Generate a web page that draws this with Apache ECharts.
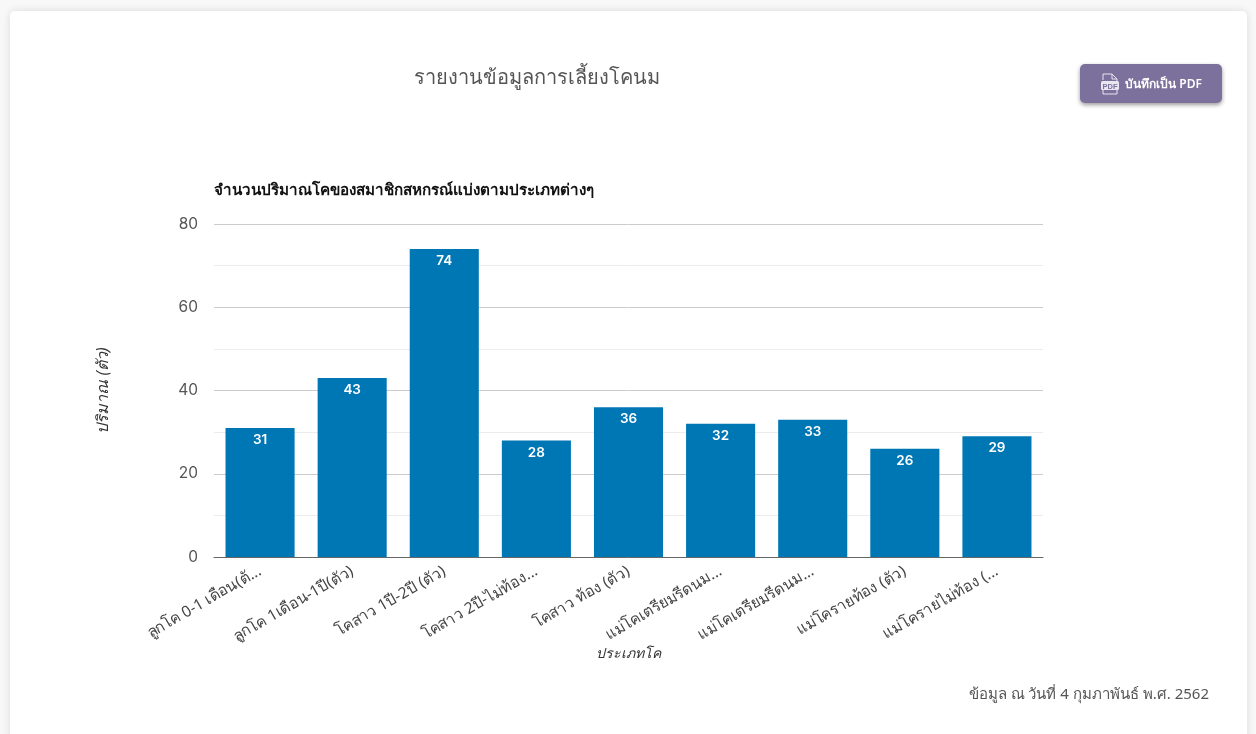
<!DOCTYPE html>
<html><head><meta charset="utf-8">
<style>
html,body{margin:0;padding:0;width:1256px;height:734px;overflow:hidden;background:#f8f8f8;font-family:"Noto Sans","Open Sans",sans-serif}
#card{position:absolute;left:10px;top:11px;width:1237px;height:740px;background:#fff;border-radius:5px;box-shadow:0 0 8px rgba(0,0,0,.12)}
#chart{position:absolute;left:0;top:0;width:1256px;height:734px}
#btn{position:absolute;left:1080px;top:64px;width:142px;height:39px;background:#7b719c;border-radius:5px;box-shadow:0 2px 4px rgba(0,0,0,.4);color:#fff;font-size:12px;font-weight:600;display:flex;align-items:center;justify-content:center;gap:5px}
</style></head><body>
<div id="card"></div>
<div id="chart"></div>
<div id="btn"><svg width="20" height="24" viewBox="0 0 20 24"><path d="M3 8V2h9l5 5v2M3 18v4h14v-4M12 2v5h5" fill="none" stroke="#e8e6f0" stroke-width="1"/><rect x="1" y="9" width="18" height="9" rx="1.5" fill="#e8e6f0"/><text x="10" y="16.5" font-size="7.5" font-weight="700" text-anchor="middle" fill="#7b719c" font-family="Liberation Sans">PDF</text></svg><span>บันทึกเป็น PDF</span></div>
<script src="https://cdn.jsdelivr.net/npm/echarts@6/dist/echarts.min.js"></script>
<script>
const categories = ['ลูกโค 0-1 เดือน(ตั...','ลูกโค 1เดือน-1ปี(ตัว)','โคสาว 1ปี-2ปี (ตัว)','โคสาว 2ปี-ไม่ท้อง...','โคสาว ท้อง (ตัว)','แม่โคเตรียมรีดนม...','แม่โคเตรียมรีดนม...','แม่โครายท้อง (ตัว)','แม่โครายไม่ท้อง (...'];
const values = [31,43,74,28,36,32,33,26,29];
const pageTitle = 'รายงานข้อมูลการเลี้ยงโคนม';
const chartTitle = 'จำนวนปริมาณโคของสมาชิกสหกรณ์แบ่งตามประเภทต่างๆ';
const yName = 'ปริมาณ (ตัว)';
const xName = 'ประเภทโค';
const footnote = 'ข้อมูล ณ วันที่ 4 กุมภาพันธ์ พ.ศ. 2562';
const F = '"Noto Sans","Open Sans",sans-serif';
const N = 'Inter,"Noto Sans",sans-serif';
const chart = echarts.init(document.getElementById('chart'));
chart.setOption({
  animation:false,
  textStyle:{fontFamily:F},
  title:[
    {text:pageTitle,left:409,top:63,textStyle:{fontSize:20,fontWeight:400,color:'#555',fontFamily:F}},
    {text:chartTitle,left:209,top:178,textStyle:{fontSize:15.2,fontWeight:600,color:'#111',fontFamily:F}},
    {text:footnote,right:42,top:682,textStyle:{fontSize:15,fontWeight:400,color:'#555',fontFamily:F}}
  ],
  grid:{left:214,top:224,right:213,bottom:177},
  xAxis:{type:'category',data:categories,name:xName,nameLocation:'middle',nameGap:86,
    nameTextStyle:{fontSize:14,fontStyle:'italic',color:'#333',fontFamily:F},
    axisTick:{show:false},axisLine:{lineStyle:{color:'#666',width:1}},
    axisLabel:{rotate:30,interval:0,fontSize:15.5,color:'#444',margin:13,fontFamily:F}},
  yAxis:{type:'value',min:0,max:80,interval:20,name:yName,nameLocation:'middle',nameGap:103,
    nameTextStyle:{fontSize:16,fontStyle:'italic',color:'#333',fontFamily:F},
    axisLine:{show:false},axisTick:{show:false},
    axisLabel:{fontSize:15.5,color:'#555',margin:16,fontFamily:N},
    splitLine:{lineStyle:{color:'#ccc',width:1}},
    minorTick:{show:false,splitNumber:2},
    minorSplitLine:{show:true,lineStyle:{color:'#ececec',width:1}}},
  series:[{type:'bar',data:values,barWidth:'75%',itemStyle:{color:'#0077b5'},
    label:{show:true,position:'insideTop',distance:5,color:'#fff',fontSize:13.5,fontWeight:600,fontFamily:N}}]
});
</script></body></html>
